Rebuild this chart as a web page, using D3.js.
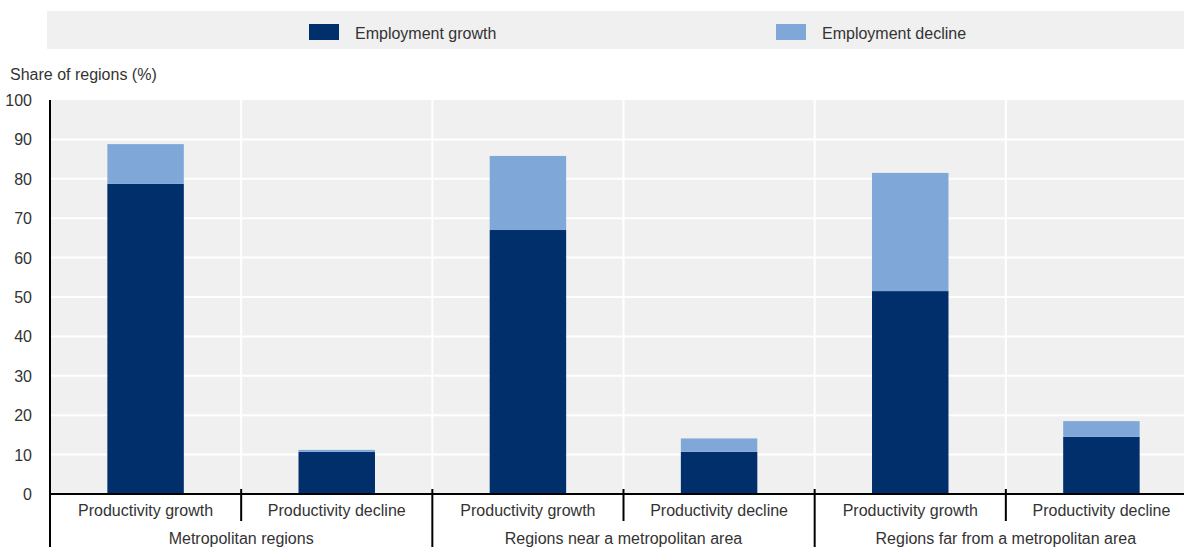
<!DOCTYPE html>
<meta charset="utf-8">
<style>
body { margin: 0; background: #fff; }
text { font-family: "Liberation Sans Narrow", "Arial Narrow", "Liberation Sans", sans-serif; fill: #333; }
.bar-growth { fill: #002f6c; }
.bar-decline { fill: #7fa8d9; }
.grid line { stroke: #fff; stroke-width: 2; }
</style>
<body></body>
<script src="https://d3js.org/d3.v7.min.js"></script>
<script>
// data
var groups = ["Metropolitan regions", "Regions near a metropolitan area", "Regions far from a metropolitan area"];
var subs = ["Productivity growth", "Productivity decline"];
var empGrowth = [78.7, 10.7, 67.0, 10.7, 51.5, 14.5];
var empDecline = [10.1, 0.5, 18.8, 3.4, 30.0, 4.0];
var yTicks = [0, 10, 20, 30, 40, 50, 60, 70, 80, 90, 100];
var seriesNames = ["Employment growth", "Employment decline"];

var W = 1184, H = 547;
var margin = {top: 100, left: 50, bottom: 53};
var plotW = 1147, plotH = H - margin.top - margin.bottom;
var fs = 16;

var svg = d3.select("body").append("svg")
    .attr("width", W).attr("height", H);

// legend
svg.append("rect").attr("x", 47).attr("y", 11).attr("width", W - 47).attr("height", 38).attr("fill", "#f0f0f0");
var legX = [309, 776];
seriesNames.forEach(function(n, i) {
  svg.append("rect").attr("x", legX[i]).attr("y", 24).attr("width", 30).attr("height", 16)
    .attr("class", i == 0 ? "bar-growth" : "bar-decline");
  svg.append("text").attr("x", legX[i] + 46).attr("y", 39).attr("font-size", fs).text(n);
});

svg.append("text").attr("x", 10).attr("y", 80).attr("font-size", fs).text("Share of regions (%)");

var cats = [];
groups.forEach(function(g) { subs.forEach(function(s) { cats.push(g + "|" + s); }); });

var x = d3.scaleBand().domain(cats).range([0, plotW]).paddingInner(0).paddingOuter(0);
var y = d3.scaleLinear().domain([0, 100]).range([plotH, 0]);

var g = svg.append("g").attr("transform", "translate(" + margin.left + "," + margin.top + ")");

g.append("rect").attr("width", plotW).attr("height", plotH).attr("fill", "#f0f0f0");

// grid
var grid = g.append("g").attr("class", "grid");
grid.selectAll(".h").data(yTicks.slice(1, -1)).enter().append("line")
  .attr("x1", 0).attr("x2", plotW).attr("y1", d => y(d)).attr("y2", d => y(d));
grid.selectAll(".v").data(cats.slice(1)).enter().append("line")
  .attr("x1", d => x(d)).attr("x2", d => x(d)).attr("y1", 0).attr("y2", plotH);

// bars
var bw = x.bandwidth() * 0.4;
g.selectAll(".bar-growth").data(empGrowth).enter().append("rect")
  .attr("class", "bar-growth")
  .attr("x", (d, i) => x(cats[i]) + (x.bandwidth() - bw) / 2)
  .attr("width", bw)
  .attr("y", d => y(d)).attr("height", d => y(0) - y(d));
g.selectAll(".bar-decline").data(empDecline).enter().append("rect")
  .attr("class", "bar-decline")
  .attr("x", (d, i) => x(cats[i]) + (x.bandwidth() - bw) / 2)
  .attr("width", bw)
  .attr("y", (d, i) => y(d + empGrowth[i])).attr("height", d => y(0) - y(d));

// y axis labels
g.selectAll(".ytick").data(yTicks).enter().append("text")
  .attr("x", -18).attr("y", d => y(d) + 6).attr("text-anchor", "end").attr("font-size", fs)
  .text(d => d);

// axes lines
g.append("line").attr("x1", 0).attr("x2", 0).attr("y1", 0).attr("y2", H - margin.top).attr("stroke", "#000").attr("stroke-width", 2);
g.append("line").attr("x1", 0).attr("x2", plotW).attr("y1", plotH).attr("y2", plotH).attr("stroke", "#000").attr("stroke-width", 2);

// separators
cats.forEach(function(c, i) {
  if (i == 0) return;
  var long = i % 2 == 0;
  g.append("line").attr("x1", x(c)).attr("x2", x(c)).attr("y1", plotH - 5)
    .attr("y2", long ? H - margin.top : plotH + 27).attr("stroke", "#000").attr("stroke-width", 2);
});

// category labels
g.selectAll(".sub").data(cats).enter().append("text")
  .attr("x", d => x(d) + x.bandwidth() / 2).attr("y", plotH + 22)
  .attr("text-anchor", "middle").attr("font-size", fs)
  .text(d => d.split("|")[1]);
g.selectAll(".grp").data(groups).enter().append("text")
  .attr("x", (d, i) => x.bandwidth() * (2 * i + 1)).attr("y", plotH + 50)
  .attr("text-anchor", "middle").attr("font-size", fs)
  .text(d => d);
</script>
